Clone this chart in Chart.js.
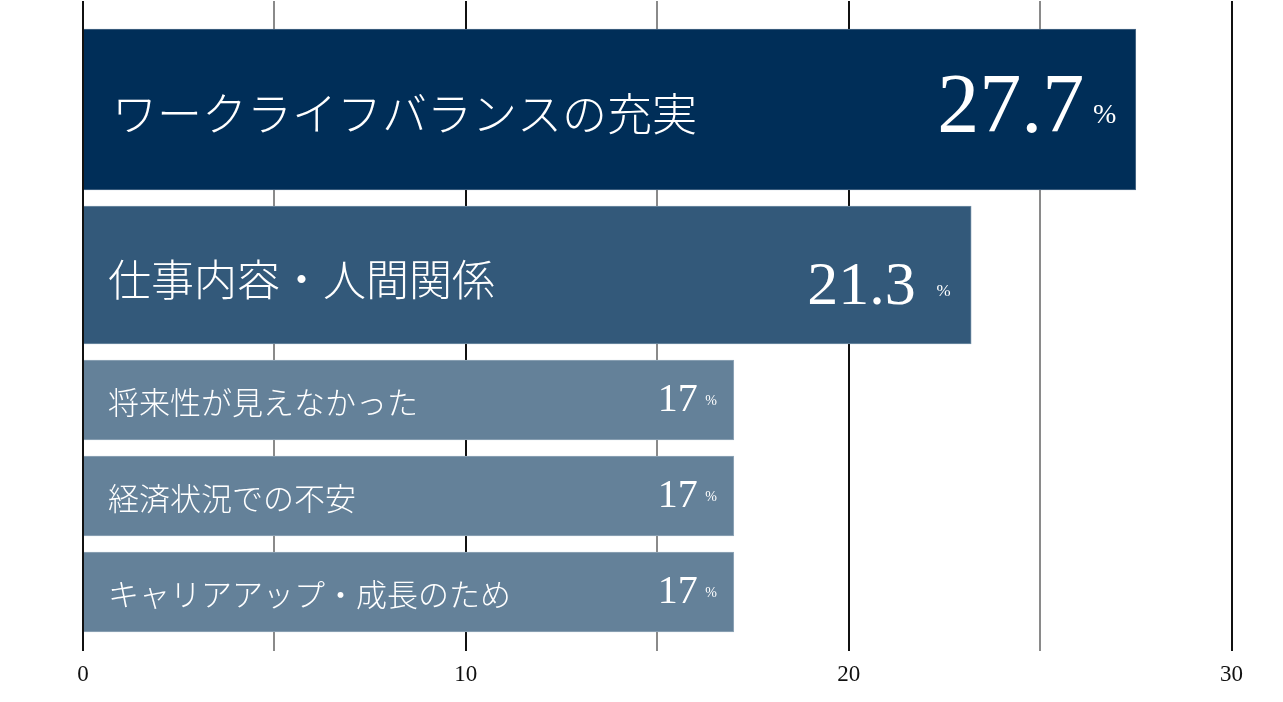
<!DOCTYPE html>
<html>
<head>
<meta charset="utf-8">
<script src="https://cdn.jsdelivr.net/npm/chart.js@4.4.1/dist/chart.umd.min.js"></script>
<style>
html,body{margin:0;padding:0;background:#fff;}
#wrap{width:1283px;height:702px;position:relative;}
</style>
</head>
<body>
<div id="wrap"><canvas id="c"></canvas></div>
<script>
// ---- data ----
const categories = ['ワークライフバランスの充実', '仕事内容・人間関係', '将来性が見えなかった', '経済状況での不安', 'キャリアアップ・成長のため'];
const barValues = [27.5, 23.2, 17, 17, 17];
const valueLabels = ['27.7', '21.3', '17', '17', '17'];
const xTickValues = [0, 10, 20, 30];

// ---- style ----
const barColors = ['#002e58', '#33597a', '#648199', '#648199', '#648199'];
const barBorders = ['#4d6b88', '#7490a7', '#93a8ba', '#93a8ba', '#93a8ba'];
const barThick = [161, 138, 80, 80, 80];
const barGap = 16, barTop = 28, yRange = 650;
const catStyle = [
  {size: 45, dx: 28, dy: 4},
  {size: 43, dx: 24, dy: 5},
  {size: 31, dx: 24, dy: 2},
  {size: 31, dx: 24, dy: 2},
  {size: 31, dx: 24, dy: 2}
];
const numStyle = [
  {size: 84, dx: -51.5, dy: 22.5, pSize: 28, pdx: -19.5, pdy: 13.5},
  {size: 62, dx: -55.5, dy: 29, pSize: 17, pdx: -20.5, pdy: 21},
  {size: 40, dx: -36, dy: 11, pSize: 14, pdx: -17, pdy: 5},
  {size: 40, dx: -36, dy: 11, pSize: 14, pdx: -17, pdy: 5},
  {size: 40, dx: -36, dy: 11, pSize: 14, pdx: -17, pdy: 5}
];

// bar slot centres derived from the thickness layout
const slotCenters = [];
(function () {
  let acc = barTop;
  barThick.forEach(t => { slotCenters.push(acc + t / 2); acc += t + barGap; });
})();

const datasets = categories.map((c, i) => ({
  label: c,
  data: [{x: barValues[i], y: slotCenters[i]}],
  backgroundColor: barColors[i],
  borderColor: barBorders[i],
  borderWidth: 1,
  barThickness: barThick[i]
}));

const labelPlugin = {
  id: 'barLabels',
  afterDatasetsDraw(chart) {
    const ctx = chart.ctx;
    chart.data.datasets.forEach((ds, i) => {
      const el = chart.getDatasetMeta(i).data[0];
      if (!el) return;
      const p = el.getProps(['x', 'y', 'base'], true);
      ctx.save();
      ctx.fillStyle = '#ffffff';
      const cs = catStyle[i];
      ctx.font = '300 ' + cs.size + 'px "Noto Sans CJK JP"';
      ctx.textAlign = 'left';
      ctx.textBaseline = 'middle';
      ctx.fillText(categories[i], p.base + cs.dx, p.y + cs.dy);
      const ns = numStyle[i];
      ctx.textAlign = 'right';
      ctx.textBaseline = 'alphabetic';
      ctx.font = ns.size + 'px "Liberation Serif"';
      ctx.fillText(valueLabels[i], p.x + ns.dx, p.y + ns.dy);
      ctx.font = ns.pSize + 'px "Liberation Serif"';
      ctx.fillText('%', p.x + ns.pdx, p.y + ns.pdy);
      ctx.restore();
    });
  }
};

new Chart(document.getElementById('c'), {
  type: 'bar',
  data: {datasets},
  plugins: [labelPlugin],
  options: {
    indexAxis: 'y',
    responsive: true,
    maintainAspectRatio: false,
    animation: false,
    layout: {padding: {left: 83, right: 51.5, top: 1, bottom: 0}},
    plugins: {legend: {display: false}, tooltip: {enabled: false}},
    scales: {
      x: {
        type: 'linear',
        position: 'bottom',
        min: 0,
        max: 30,
        ticks: {
          stepSize: 5,
          autoSkip: false,
          maxRotation: 0,
          padding: 10,
          color: '#111111',
          font: {family: '"Liberation Serif"', size: 23},
          callback: v => xTickValues.includes(v) ? String(v) : ''
        },
        grid: {
          drawTicks: false,
          lineWidth: 2,
          color: c => (c.tick && xTickValues.includes(c.tick.value)) ? '#111111' : '#8a8a8a'
        },
        border: {display: false},
        afterFit: s => { s.height = 51; }
      },
      y: {
        type: 'linear',
        min: 0,
        max: yRange,
        reverse: true,
        stacked: true,
        offset: false,
        grid: {offset: false},
        display: false
      }
    }
  }
});
</script>
</body>
</html>
